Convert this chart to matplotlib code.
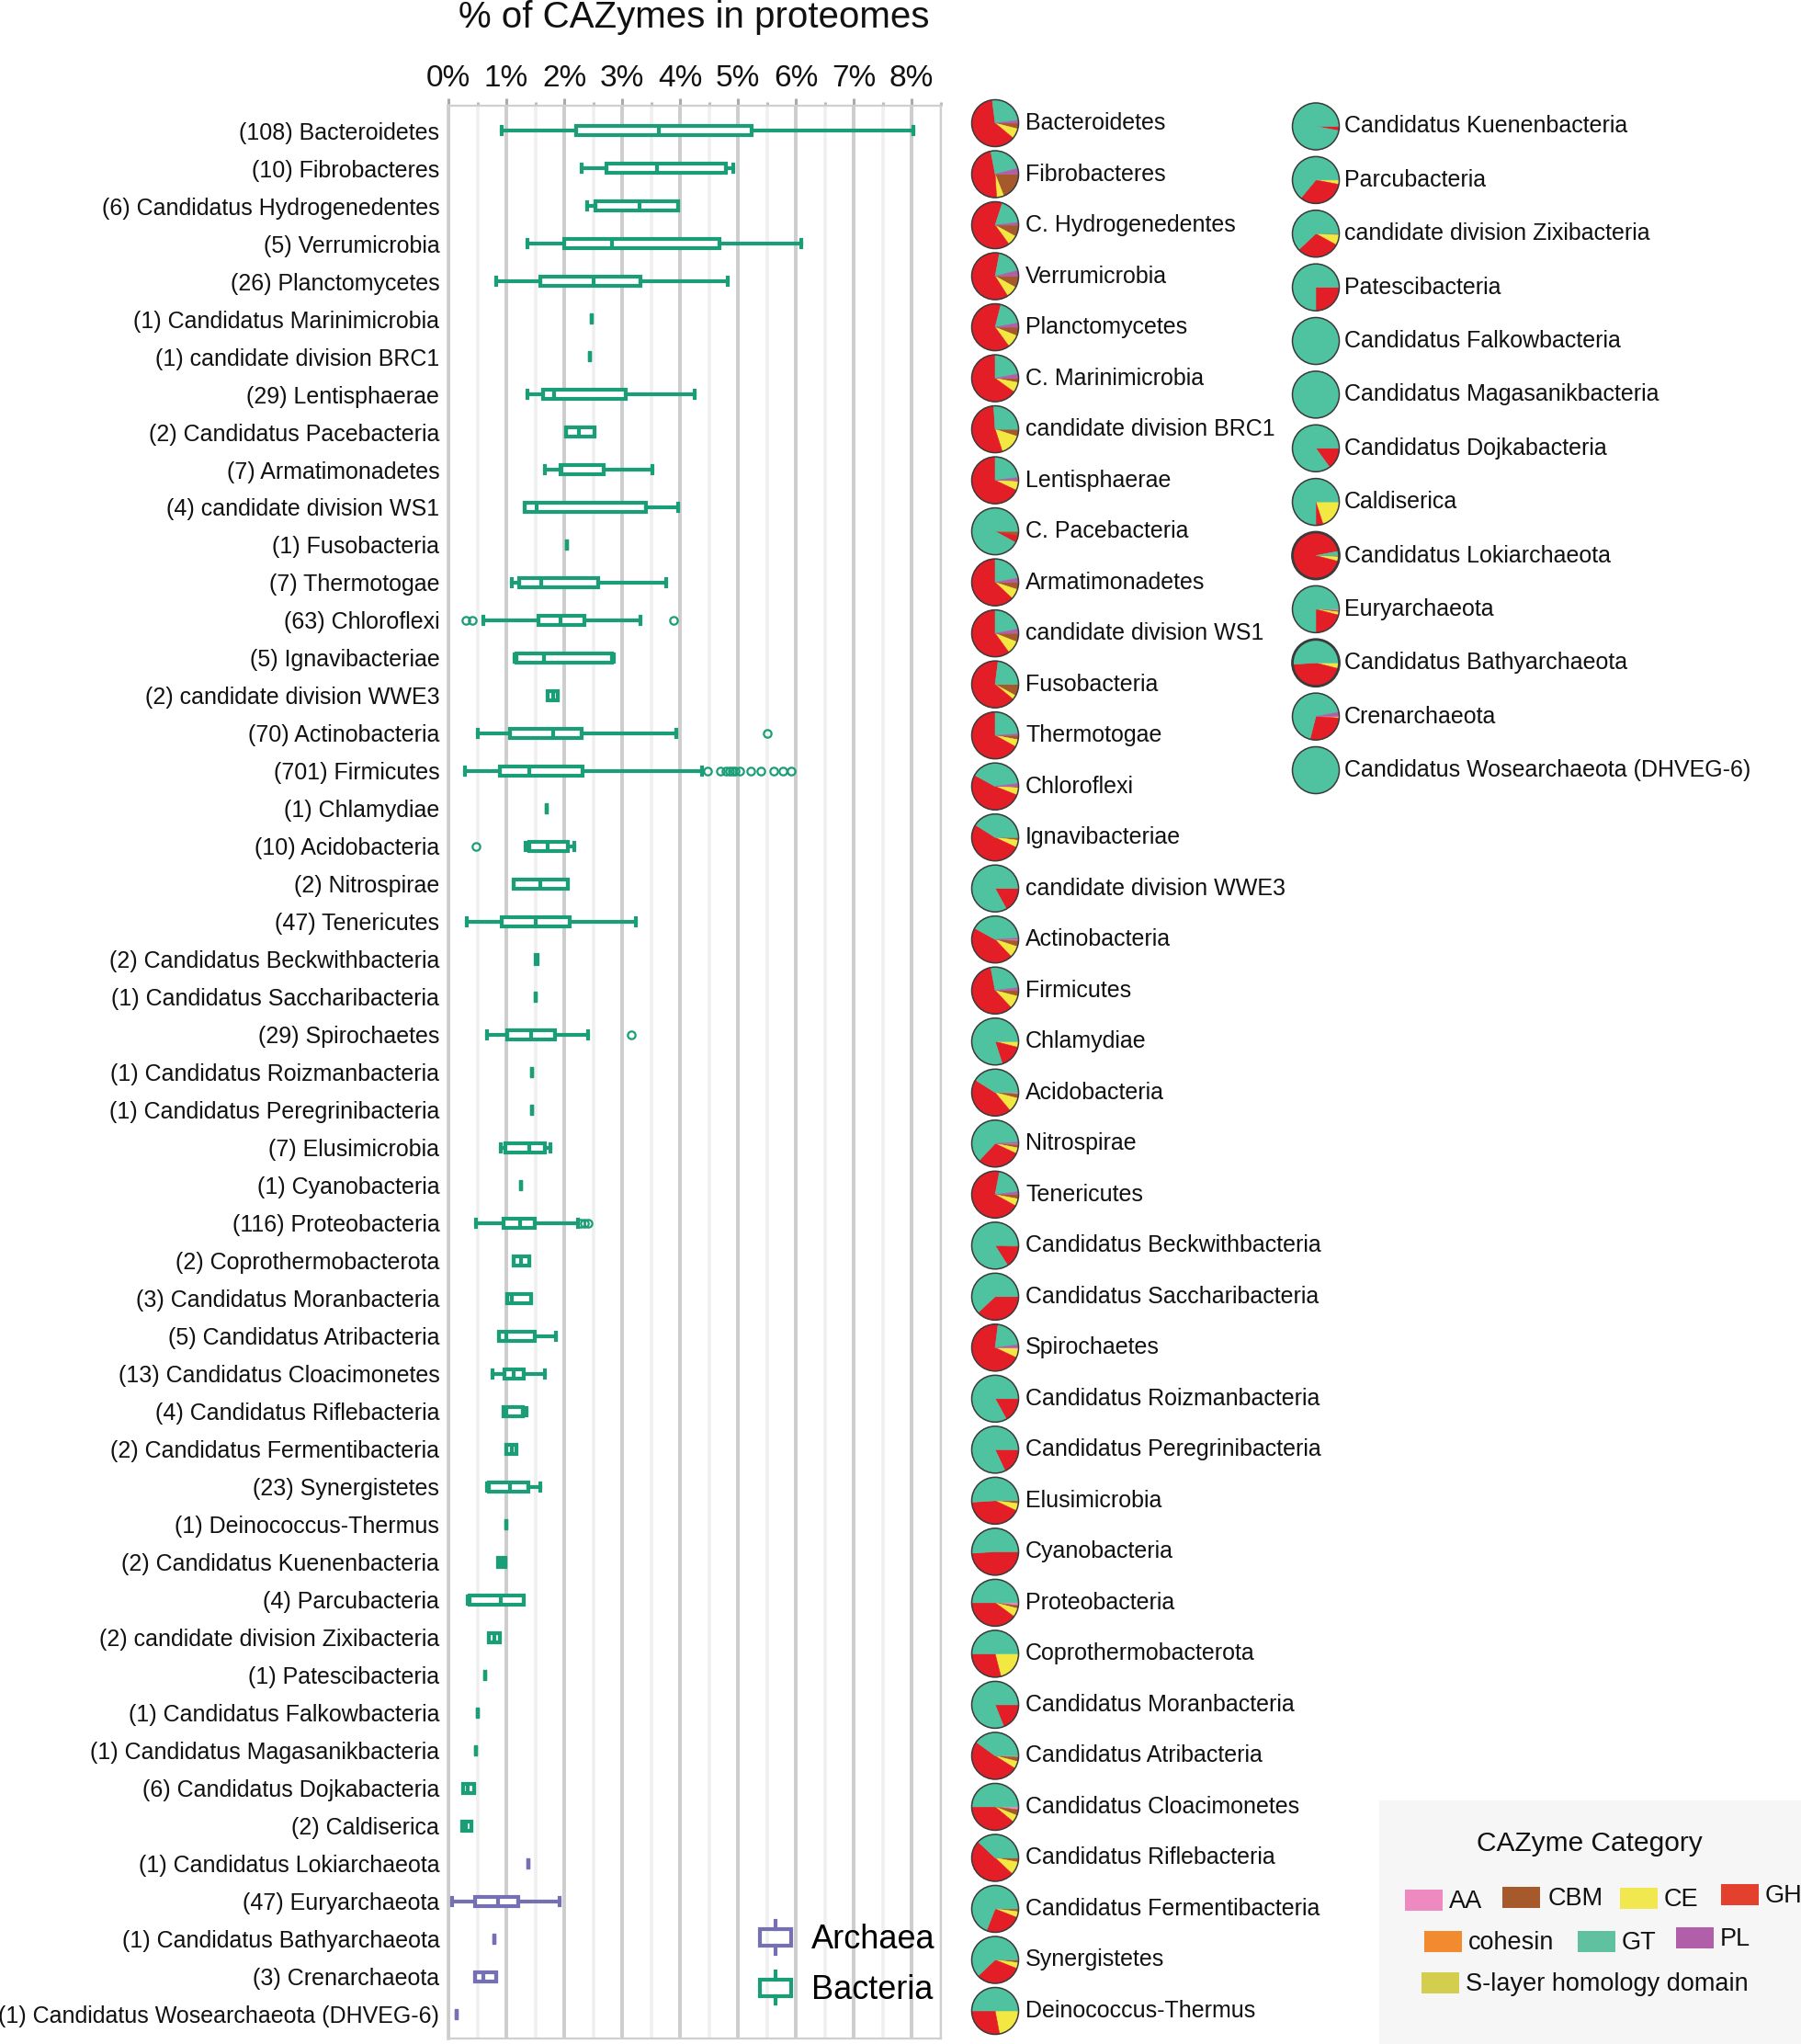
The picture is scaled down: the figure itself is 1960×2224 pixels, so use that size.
import numpy as np
import matplotlib
matplotlib.use("Agg")
import matplotlib.pyplot as plt
from matplotlib.patches import Rectangle, Circle
from matplotlib.lines import Line2D
from matplotlib.legend_handler import HandlerBase
from matplotlib.ticker import MultipleLocator

plt.rcParams['font.family'] = ['Liberation Sans', 'DejaVu Sans']

# ---------------- data ----------------
group_names = [
    "Bacteroidetes", "Fibrobacteres", "Candidatus Hydrogenedentes", "Verrumicrobia",
    "Planctomycetes", "Candidatus Marinimicrobia", "candidate division BRC1", "Lentisphaerae",
    "Candidatus Pacebacteria", "Armatimonadetes", "candidate division WS1", "Fusobacteria",
    "Thermotogae", "Chloroflexi", "Ignavibacteriae", "candidate division WWE3",
    "Actinobacteria", "Firmicutes", "Chlamydiae", "Acidobacteria", "Nitrospirae",
    "Tenericutes", "Candidatus Beckwithbacteria", "Candidatus Saccharibacteria",
    "Spirochaetes", "Candidatus Roizmanbacteria", "Candidatus Peregrinibacteria",
    "Elusimicrobia", "Cyanobacteria", "Proteobacteria", "Coprothermobacterota",
    "Candidatus Moranbacteria", "Candidatus Atribacteria", "Candidatus Cloacimonetes",
    "Candidatus Riflebacteria", "Candidatus Fermentibacteria", "Synergistetes",
    "Deinococcus-Thermus", "Candidatus Kuenenbacteria", "Parcubacteria",
    "candidate division Zixibacteria", "Patescibacteria", "Candidatus Falkowbacteria",
    "Candidatus Magasanikbacteria", "Candidatus Dojkabacteria", "Caldiserica",
    "Candidatus Lokiarchaeota", "Euryarchaeota", "Candidatus Bathyarchaeota",
    "Crenarchaeota", "Candidatus Wosearchaeota (DHVEG-6)"]
group_counts = [108, 10, 6, 5, 26, 1, 1, 29, 2, 7, 4, 1, 7, 63, 5, 2, 70, 701, 1, 10, 2,
                47, 2, 1, 29, 1, 1, 7, 1, 116, 2, 3, 5, 13, 4, 2, 23, 1, 2, 4, 2, 1, 1,
                1, 6, 2, 1, 47, 1, 3, 1]
domain = ['B'] * 46 + ['A'] * 5

whisker_lo = [0.92, 2.30, 2.39, 1.37, 0.82, 2.47, 2.45, 1.37, 2.03, 1.66, 1.31, 2.04,
              1.10, 0.60, 1.14, 1.72, 0.51, 0.29, 1.70, 1.34, 1.13, 0.32, 1.50, 1.51,
              0.67, 1.44, 1.44, 0.91, 1.26, 0.47, 1.13, 1.01, 0.88, 0.76, 0.95, 1.00,
              0.67, 1.00, 0.85, 0.33, 0.70, 0.63, 0.51, 0.48, 0.26, 0.24, 1.38, 0.06,
              0.79, 0.46, 0.15]
q1 = [2.20, 2.73, 2.54, 2.00, 1.58, 2.47, 2.45, 1.63, 2.03, 1.93, 1.31, 2.04,
      1.23, 1.56, 1.17, 1.72, 1.07, 0.89, 1.70, 1.39, 1.13, 0.92, 1.50, 1.51,
      1.01, 1.44, 1.44, 0.98, 1.26, 0.95, 1.13, 1.01, 0.88, 0.97, 0.95, 1.00,
      0.70, 1.00, 0.85, 0.37, 0.70, 0.63, 0.51, 0.48, 0.26, 0.24, 1.38, 0.46,
      0.79, 0.46, 0.15]
median = [3.63, 3.60, 3.30, 2.82, 2.50, 2.47, 2.45, 1.83, 2.26, 1.96, 1.52, 2.04,
          1.61, 1.93, 1.65, 1.81, 1.81, 1.39, 1.70, 1.71, 1.59, 1.50, 1.52, 1.51,
          1.43, 1.44, 1.44, 1.40, 1.26, 1.24, 1.26, 1.10, 1.00, 1.13, 1.00, 1.09,
          1.06, 1.00, 0.92, 0.91, 0.79, 0.63, 0.51, 0.48, 0.34, 0.30, 1.38, 0.86,
          0.79, 0.60, 0.15]
q3 = [5.24, 4.80, 3.97, 4.68, 3.31, 2.47, 2.45, 3.06, 2.52, 2.68, 3.41, 2.04,
      2.58, 2.35, 2.82, 1.89, 2.30, 2.32, 1.70, 2.07, 2.07, 2.10, 1.54, 1.51,
      1.84, 1.44, 1.44, 1.67, 1.26, 1.49, 1.39, 1.43, 1.49, 1.30, 1.28, 1.18,
      1.38, 1.00, 0.99, 1.30, 0.89, 0.63, 0.51, 0.48, 0.45, 0.40, 1.38, 1.20,
      0.79, 0.82, 0.15]
whisker_hi = [8.03, 4.92, 3.97, 6.10, 4.83, 2.47, 2.45, 4.26, 2.52, 3.52, 3.97, 2.04,
              3.76, 3.31, 2.86, 1.89, 3.93, 4.38, 1.70, 2.18, 2.07, 3.24, 1.54, 1.51,
              2.41, 1.44, 1.44, 1.76, 1.26, 2.24, 1.39, 1.43, 1.86, 1.66, 1.35, 1.18,
              1.59, 1.00, 0.99, 1.30, 0.89, 0.63, 0.51, 0.48, 0.45, 0.40, 1.38, 1.92,
              0.79, 0.82, 0.15]
outliers = {
    "Chloroflexi": [0.30, 0.41, 3.89],
    "Actinobacteria": [5.51],
    "Firmicutes": [4.47, 4.70, 4.79, 4.85, 4.90, 4.96, 5.03, 5.22, 5.39, 5.62, 5.77, 5.92],
    "Acidobacteria": [0.48],
    "Spirochaetes": [3.16],
    "Proteobacteria": [2.28, 2.35, 2.41],
}

xtick_values = [0, 1, 2, 3, 4, 5, 6, 7, 8]
xtick_labels = [f"{v}%" for v in xtick_values]

# pie composition (% of CAZymes per category)
pie_names = [
    "Bacteroidetes", "Fibrobacteres", "C. Hydrogenedentes", "Verrumicrobia", "Planctomycetes",
    "C. Marinimicrobia", "candidate division BRC1", "Lentisphaerae", "C. Pacebacteria",
    "Armatimonadetes", "candidate division WS1", "Fusobacteria", "Thermotogae", "Chloroflexi",
    "Ignavibacteriae", "candidate division WWE3", "Actinobacteria", "Firmicutes", "Chlamydiae",
    "Acidobacteria", "Nitrospirae", "Tenericutes", "Candidatus Beckwithbacteria",
    "Candidatus Saccharibacteria", "Spirochaetes", "Candidatus Roizmanbacteria",
    "Candidatus Peregrinibacteria", "Elusimicrobia", "Cyanobacteria", "Proteobacteria",
    "Coprothermobacterota", "Candidatus Moranbacteria", "Candidatus Atribacteria",
    "Candidatus Cloacimonetes", "Candidatus Riflebacteria", "Candidatus Fermentibacteria",
    "Synergistetes", "Deinococcus-Thermus",
    "Candidatus Kuenenbacteria", "Parcubacteria", "candidate division Zixibacteria",
    "Patescibacteria", "Candidatus Falkowbacteria", "Candidatus Magasanikbacteria",
    "Candidatus Dojkabacteria", "Caldiserica", "Candidatus Lokiarchaeota", "Euryarchaeota",
    "Candidatus Bathyarchaeota", "Crenarchaeota", "Candidatus Wosearchaeota (DHVEG-6)"]
pct_AA  = [0, 0, 0, 0, 0, 0, 0, 0, 0, 0, 0, 0, 0, 0, 0, 0, 1, 0, 0, 1, 1, 0, 0, 0, 1, 0,
           0, 0, 0, 2, 0, 0, 1, 2, 0, 0, 0, 0, 0, 0, 0, 0, 0, 0, 0, 0, 0, 1, 0, 0, 0]
pct_CBM = [4, 19, 8, 8, 6, 3, 5, 1, 3, 5, 6, 8, 3, 1, 2, 0, 4, 4, 0, 3, 2, 3, 1, 0, 0, 0,
           0, 2, 0, 2, 0, 0, 3, 4, 3, 2, 2, 0, 0, 0, 1, 0, 0, 0, 0, 0, 1, 1, 0, 0, 0]
pct_CE  = [7, 5, 7, 8, 9, 7, 15, 6, 0, 7, 9, 3, 5, 5, 5, 0, 8, 9, 4, 10, 4, 5, 0, 0, 6, 0,
           0, 5, 0, 6, 21, 0, 5, 5, 9, 4, 4, 22, 0, 3, 7, 0, 0, 0, 0, 20, 3, 2, 4, 1, 0]
pct_GH  = [62, 48, 65, 62, 64, 65, 54, 68, 5, 63, 60, 66, 67, 52, 52, 17, 45, 59, 16, 45,
           30, 70, 15, 38, 70, 17, 18, 42, 49, 40, 29, 19, 51, 39, 50, 25, 32, 28, 3, 33,
           30, 25, 0, 0, 15, 5, 93, 21, 45, 28, 0]
pct_GT  = [25, 24, 18, 18, 18, 22, 26, 23, 92, 22, 22, 23, 24, 40, 41, 83, 41, 26, 80, 41,
           62, 20, 84, 62, 21, 83, 82, 51, 51, 50, 50, 81, 40, 50, 38, 69, 62, 50, 97, 64,
           62, 75, 100, 100, 85, 75, 3, 75, 51, 68, 100]
pct_PL  = [2, 4, 2, 4, 3, 3, 0, 2, 0, 3, 3, 0, 1, 2, 0, 0, 1, 2, 0, 0, 1, 2, 0, 0, 2, 0,
           0, 0, 0, 0, 0, 0, 0, 0, 0, 0, 0, 0, 0, 0, 0, 0, 0, 0, 0, 0, 0, 0, 0, 3, 0]

legend_categories = ["AA", "CBM", "CE", "GH", "cohesin", "GT", "PL", "S-layer homology domain"]

# ---------------- style ----------------
C_BACT = "#1B9E77"
C_ARCH = "#7570B3"
CAT_COL = {"AA": "#EE8AC0", "CBM": "#A65A2B", "CE": "#F2E841", "GH": "#E41E26",
           "cohesin": "#F28A30", "GT": "#4FC2A0", "PL": "#B05FA8",
           "S-layer homology domain": "#D4CE4F"}
LEG_COL = dict(CAT_COL, GH="#E3402D", GT="#5FC1A0", CE="#F0E84E")

W, H = 1960, 2224
fig = plt.figure(figsize=(W / 100, H / 100), dpi=100)

def fx(px):
    return px / W

def fy(py):
    return 1 - py / H

# ---------------- box plot axes ----------------
AX_L, AX_R, AX_T, AX_B = 488, 1023.5, 115, 2218
ax = fig.add_axes([fx(AX_L), fy(AX_B), (AX_R - AX_L) / W, (AX_B - AX_T) / H])
n = len(group_names)
stats_b, pos_b, stats_a, pos_a = [], [], [], []
for i in range(n):
    s = dict(whislo=whisker_lo[i], q1=q1[i], med=median[i], q3=q3[i],
             whishi=whisker_hi[i], fliers=np.array(outliers.get(group_names[i], [])))
    if domain[i] == 'B':
        stats_b.append(s); pos_b.append(i)
    else:
        stats_a.append(s); pos_a.append(i)

LW = 3.0
for st, pos, col in [(stats_b, pos_b, C_BACT), (stats_a, pos_a, C_ARCH)]:
    kw = dict(widths=0.24, capwidths=0.19, patch_artist=True, manage_ticks=False,
              boxprops=dict(facecolor="white", edgecolor=col, linewidth=LW),
              whiskerprops=dict(color=col, linewidth=LW),
              capprops=dict(color=col, linewidth=LW),
              medianprops=dict(color=col, linewidth=LW),
              flierprops=dict(marker='o', markerfacecolor='none', markeredgecolor=col,
                              markersize=6, markeredgewidth=1.6),
              zorder=3)
    try:
        ax.bxp(st, positions=pos, orientation='horizontal', **kw)
    except TypeError:
        ax.bxp(st, positions=pos, vert=False, **kw)

ax.set_xlim(0, 8.5)
ax.set_ylim(50.64, -0.66)
ax.set_yticks(range(n))
ax.set_yticklabels([f"({c}) {nm}" for c, nm in zip(group_counts, group_names)])
ax.tick_params(axis='y', length=0, pad=7, labelsize=18, labelcolor="#111111")
ax.xaxis.tick_top()
ax.set_xticks(xtick_values)
ax.set_xticklabels(xtick_labels)
ax.xaxis.set_minor_locator(MultipleLocator(0.5))
ax.tick_params(axis='x', which='major', length=6, width=2.2, color="#aaaaaa",
               labelsize=24, pad=4, labelcolor="#111111")
ax.tick_params(axis='x', which='minor', length=3, width=2.2, color="#bbbbbb")
ax.set_axisbelow(True)
ax.grid(which='major', axis='x', color="#cdcdcd", lw=2.8)
ax.grid(which='minor', axis='x', color="#efefef", lw=2.6)
ax.grid(which='major', axis='y', visible=False)
for side, sp in ax.spines.items():
    sp.set_color("#cfcfcf")
    sp.set_linewidth(1.6)
ax.spines['left'].set_linewidth(2.6)
ax.spines['left'].set_color("#cdcdcd")

# title
fig.text(fx(755), fy(19), "% of CAZymes in proteomes", fontsize=29,
         ha='center', va='center', color="#111111")

# domain legend with box icons
class BoxIconHandler(HandlerBase):
    def create_artists(self, legend, orig_handle, xdescent, ydescent, width, height,
                       fontsize, trans):
        c = orig_handle.get_color()
        x0, y0 = -xdescent, -ydescent
        cx, cy = x0 + width / 2, y0 + height / 2
        bw, bh = width * 0.95, height * 0.55
        ext = height * 0.55
        rect = Rectangle((cx - bw / 2, cy - bh / 2), bw, bh, fill=False, ec=c, lw=LW,
                         transform=trans)
        l1 = Line2D([cx, cx], [cy + bh / 2, cy + bh / 2 + ext * 0.5], color=c, lw=LW,
                    transform=trans)
        l2 = Line2D([cx, cx], [cy - bh / 2 - ext * 0.5, cy - bh / 2], color=c, lw=LW,
                    transform=trans)
        return [rect, l1, l2]

handles = [Line2D([], [], color=C_ARCH), Line2D([], [], color=C_BACT)]
leg = ax.legend(handles, ["Archaea", "Bacteria"], handler_map={Line2D: BoxIconHandler()},
                loc='lower right', bbox_to_anchor=(fx(1018), fy(2183)),
                bbox_transform=fig.transFigure, frameon=False, fontsize=26,
                handlelength=1.0, handleheight=1.0, handletextpad=0.6,
                labelspacing=0.5, borderpad=0, borderaxespad=0)

# ---------------- pies ----------------
axp = fig.add_axes([0, 0, 1, 1])
axp.set_zorder(-1)
order = ["AA", "CBM", "CE", "GH", "GT", "PL"]
pct = {"AA": pct_AA, "CBM": pct_CBM, "CE": pct_CE, "GH": pct_GH, "GT": pct_GT, "PL": pct_PL}
R = 25.5
col1_n = 38
for i, name in enumerate(pie_names):
    if i < col1_n:
        cx = 1083
        cy = 134 + i * (2188 - 134) / (col1_n - 1)
        tx = 1116
    else:
        j = i - col1_n
        cx = 1432
        cy = 137.5 + j * (838 - 137.5) / (len(pie_names) - col1_n - 1)
        tx = 1463
    keys = [k for k in order if pct[k][i] > 0]
    vals = [pct[k][i] for k in keys]
    wedges, _ = axp.pie(vals, colors=[CAT_COL[k] for k in keys], center=(cx, H - cy),
                        radius=R, startangle=0, counterclock=False,
                        wedgeprops=dict(linewidth=0.4))
    for w in wedges:
        w.set_edgecolor(w.get_facecolor())
    edge_lw = 2.0 if name in ("Candidatus Bathyarchaeota", "Candidatus Lokiarchaeota") else 1.1
    axp.add_patch(Circle((cx, H - cy), R, fill=False, ec="#3a3a3a", lw=edge_lw))
    axp.text(tx, H - cy, name, fontsize=18, ha='left', va='center', color="#111111")
axp.set_xlim(0, W)
axp.set_ylim(0, H)
axp.set_aspect('auto')
axp.set_axis_off()

# ---------------- CAZyme category legend ----------------
fig.patches.append(Rectangle((fx(1501), 0), 1 - fx(1501), fy(1959), transform=fig.transFigure,
                             fc="#f6f6f6", ec="none", zorder=0))
fig.text(fx(1730), fy(2006), "CAZyme Category", fontsize=21.5, ha='center', va='center',
         color="#111111")
leg_layout = {  # swatch left x, row center y, text x
    "AA": (1529, 2067, 1577), "CBM": (1635, 2064, 1685), "CE": (1763, 2065, 1811),
    "GH": (1873, 2061, 1921), "cohesin": (1550, 2112, 1598), "GT": (1717, 2112, 1765),
    "PL": (1824, 2108, 1872), "S-layer homology domain": (1547, 2157, 1595)}
for cat in legend_categories:
    sx, sy, tx = leg_layout[cat]
    fig.patches.append(Rectangle((fx(sx), fy(sy + 11.5)), 41 / W, 23 / H,
                                 transform=fig.transFigure, fc=LEG_COL[cat], ec="none"))
    fig.text(fx(tx), fy(sy + 2), cat, fontsize=19.5, ha='left', va='center', color="#111111")

fig.savefig("out.png", dpi=100)
